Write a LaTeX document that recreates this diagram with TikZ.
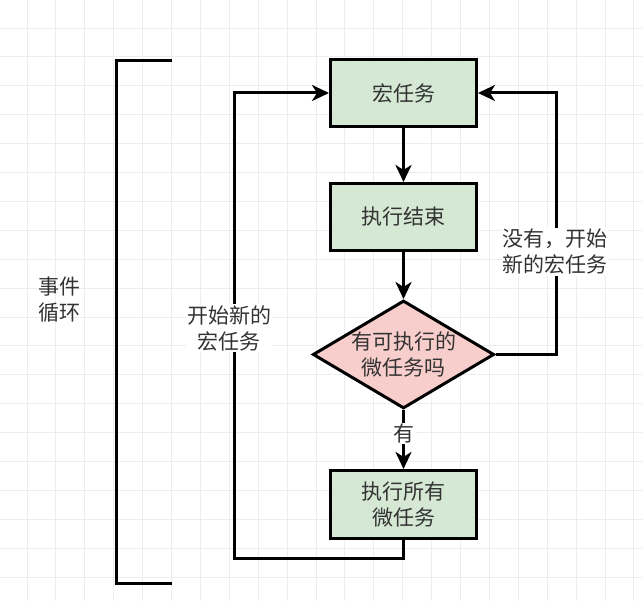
\documentclass[tikz,border=0pt]{standalone}
\usepackage{fontspec}
\setmainfont{Noto Sans CJK SC}
\usepackage{xcolor}
\usetikzlibrary{arrows.meta, positioning, shapes.geometric}

\definecolor{taskgreen}{HTML}{D5E8D4}
\definecolor{checkred}{HTML}{F8CECC}
\definecolor{textgray}{HTML}{333333}
\definecolor{gridgray}{HTML}{EDEDED}

\begin{document}
\begin{tikzpicture}[
    x=1pt, y=-1pt,
    font=\fontsize{21}{26}\selectfont,
    task/.style={rectangle, draw, line width=3pt, fill=taskgreen, text=textgray,
                 minimum width=146pt, minimum height=67pt, align=center, inner sep=0pt},
    check/.style={diamond, draw, line width=3pt, fill=checkred, text=textgray,
                  aspect=1.68, minimum width=180pt, minimum height=107pt,
                  align=center, inner sep=0pt},
    arr/.style={-{Stealth[length=17pt, width=16pt, inset=5pt]}, line width=3pt},
    plain/.style={line width=3pt},
    tlabel/.style={text=textgray, fill=white, align=center, inner sep=1pt},
]

% background grid
\useasboundingbox (0,0) rectangle (643,601);
\fill[white] (0,0) rectangle (643,601);
\foreach \i in {0,...,21} {
    \draw[gridgray, line width=0.9pt] ({27+28.9*\i},0) -- ({27+28.9*\i},601);
}
\foreach \j in {0,...,20} {
    \draw[gridgray, line width=0.9pt] (0,{28+28.9*\j}) -- (643,{28+28.9*\j});
}

% event loop bracket
\draw[plain] (172,61) -- (116,61) -- (116,583) -- (172,583);
\node[text=textgray, align=center] (loop) at (59,300) {事件\\循环};

% flow
\node[task] (macro) at (403.5,93) {宏任务};
\node[task, below=54pt of macro] (done) {执行结束};
\node[check, below=47pt of done] (micro) {有可执行的\\微任务吗};
\node[task, below=59pt of micro, minimum height=68pt] (runall) {执行所有\\微任务};

\coordinate (turnL) at (234,558);
\coordinate (turnR) at (556,93);

\draw[arr] (macro) -- (done);
\draw[arr] (done) -- (micro);
\draw[arr] (micro) -- (runall) node[tlabel, pos=0.4] (yes) {有};
\draw[arr] (runall.south) |- (turnL) |- (macro.west);
\draw[arr] (micro.east) -| (turnR) -- (macro.east);

\node[tlabel] (newL) at (229,328) {开始新的\\宏任务};
\node[tlabel] (newR) at (555,252) {没有，开始\\新的宏任务};

\end{tikzpicture}
\end{document}
